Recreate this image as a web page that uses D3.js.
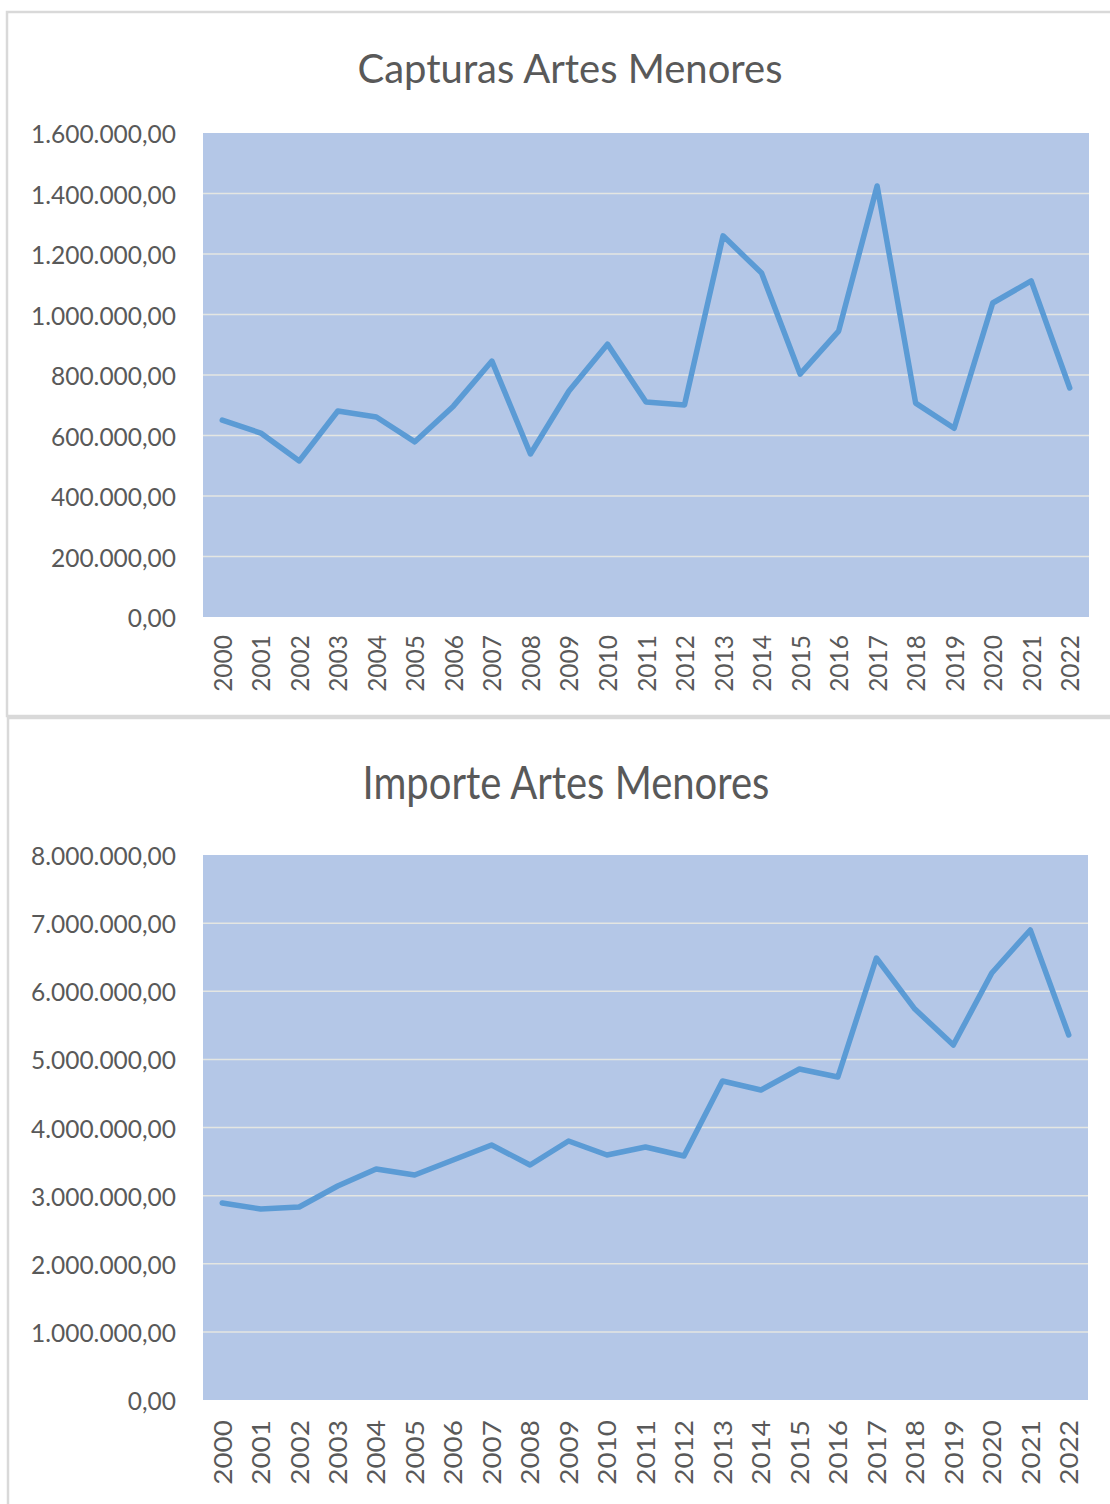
<!DOCTYPE html>
<html>
<head>
<meta charset="utf-8">
<title>Artes Menores</title>
<script src="https://cdn.jsdelivr.net/npm/d3@7"></script>
<style>
  body { margin: 0; background: #fff; }
  svg { display: block; }
  text { font-family: Lato, 'Open Sans', sans-serif; fill: #595959; }
</style>
</head>
<body>
<div id="chart"></div>
<script>
// data
var years = ["2000","2001","2002","2003","2004","2005","2006","2007","2008","2009","2010",
  "2011","2012","2013","2014","2015","2016","2017","2018","2019","2020","2021","2022"];

var capturas = [651000, 608000, 516000, 681000, 661000, 579000, 697000, 846000, 539000, 747000,
  902000, 711000, 701000, 1260000, 1137000, 803000, 945000, 1425000, 707000, 624000,
  1038000, 1111000, 757000];

var importe = [2892000, 2804000, 2833000, 3141000, 3391000, 3303000, 3523000, 3743000, 3450000,
  3802000, 3596000, 3714000, 3582000, 4683000, 4550000, 4859000, 4741000, 6488000, 5739000,
  5211000, 6268000, 6899000, 5358000];

var capturasTicks = [0, 200000, 400000, 600000, 800000, 1000000, 1200000, 1400000, 1600000];
var importeTicks = [0, 1000000, 2000000, 3000000, 4000000, 5000000, 6000000, 7000000, 8000000];

var W = 1110, H = 1504;
var svg = d3.select('#chart').append('svg').attr('width', W).attr('height', H);

// es-ES style number: 1.600.000,00
var fmt = d3.formatLocale({ decimal: ",", thousands: ".", grouping: [3], currency: ["", "€"] }).format(",.2f");

// panel frames
svg.append('rect').attr('x', 7).attr('y', 12).attr('width', 1120).attr('height', 704)
  .attr('fill', 'none').attr('stroke', '#d9d9d9').attr('stroke-width', 2.5);
svg.append('rect').attr('x', 8).attr('y', 718).attr('width', 1120).attr('height', 800)
  .attr('fill', 'none').attr('stroke', '#d9d9d9').attr('stroke-width', 2.5);

function drawChart(opt) {
  var g = svg.append('g');
  var x = d3.scaleBand().domain(years).range([opt.left, opt.right]);
  var y = d3.scaleLinear().domain([0, d3.max(opt.ticks)]).range([opt.bottom, opt.top]);
  var sy = opt.stretch || 1;

  g.append('text')
    .attr('transform', 'translate(' + opt.titleX + ',' + opt.titleY + ') scale(1,' + sy + ')')
    .attr('text-anchor', 'middle')
    .attr('dominant-baseline', 'central')
    .style('font-size', '40px')
    .text(opt.title);

  g.append('rect')
    .attr('x', opt.left).attr('y', opt.top)
    .attr('width', opt.right - opt.left).attr('height', opt.bottom - opt.top)
    .attr('fill', '#b4c7e7');

  // gridlines
  g.selectAll('.grid').data(opt.ticks.slice(1, -1)).enter().append('line')
    .attr('x1', opt.left).attr('x2', opt.right)
    .attr('y1', function(d) { return y(d); }).attr('y2', function(d) { return y(d); })
    .attr('stroke', '#e4e6e2').attr('stroke-width', 1.5);

  // y axis labels
  var ya = g.append('g').attr('transform', 'translate(' + (opt.left - 27) + ',0)')
    .call(d3.axisLeft(y).tickValues(opt.ticks).tickFormat(fmt).tickSize(0).tickPadding(0));
  ya.select('.domain').remove();
  ya.selectAll('text')
    .style('font-size', '24.5px').style('font-family', null).attr('fill', '#595959')
    .attr('dy', null).attr('dominant-baseline', 'central');

  // x axis labels, rotated
  var xa = g.append('g').attr('transform', 'translate(0,' + opt.bottom + ')')
    .call(d3.axisBottom(x).tickSize(0).tickPadding(0));
  xa.select('.domain').remove();
  xa.selectAll('text')
    .style('font-size', '24.5px').style('font-family', null).attr('fill', '#595959')
    .attr('y', 0).attr('dy', null)
    .attr('text-anchor', 'end')
    .attr('dominant-baseline', 'central')
    .attr('transform', 'scale(1,' + sy + ') translate(0,' + (opt.labelGap / sy) + ') rotate(-90)');

  var line = d3.line()
    .x(function(d, i) { return x(years[i]) + x.bandwidth() / 2; })
    .y(function(d) { return y(d); });

  g.append('path').datum(opt.values)
    .attr('d', line)
    .attr('fill', 'none')
    .attr('stroke', '#5b9bd5')
    .attr('stroke-width', 5.5)
    .attr('stroke-linejoin', 'round')
    .attr('stroke-linecap', 'round');
}

drawChart({
  title: 'Capturas Artes Menores', titleX: 570, titleY: 68,
  values: capturas, ticks: capturasTicks,
  left: 203, right: 1089, top: 133, bottom: 617, labelGap: 18, stretch: 1
});

drawChart({
  title: 'Importe Artes Menores', titleX: 566, titleY: 781,
  values: importe, ticks: importeTicks,
  left: 203, right: 1088, top: 855, bottom: 1400, labelGap: 20, stretch: 1.14
});
</script>
</body>
</html>
